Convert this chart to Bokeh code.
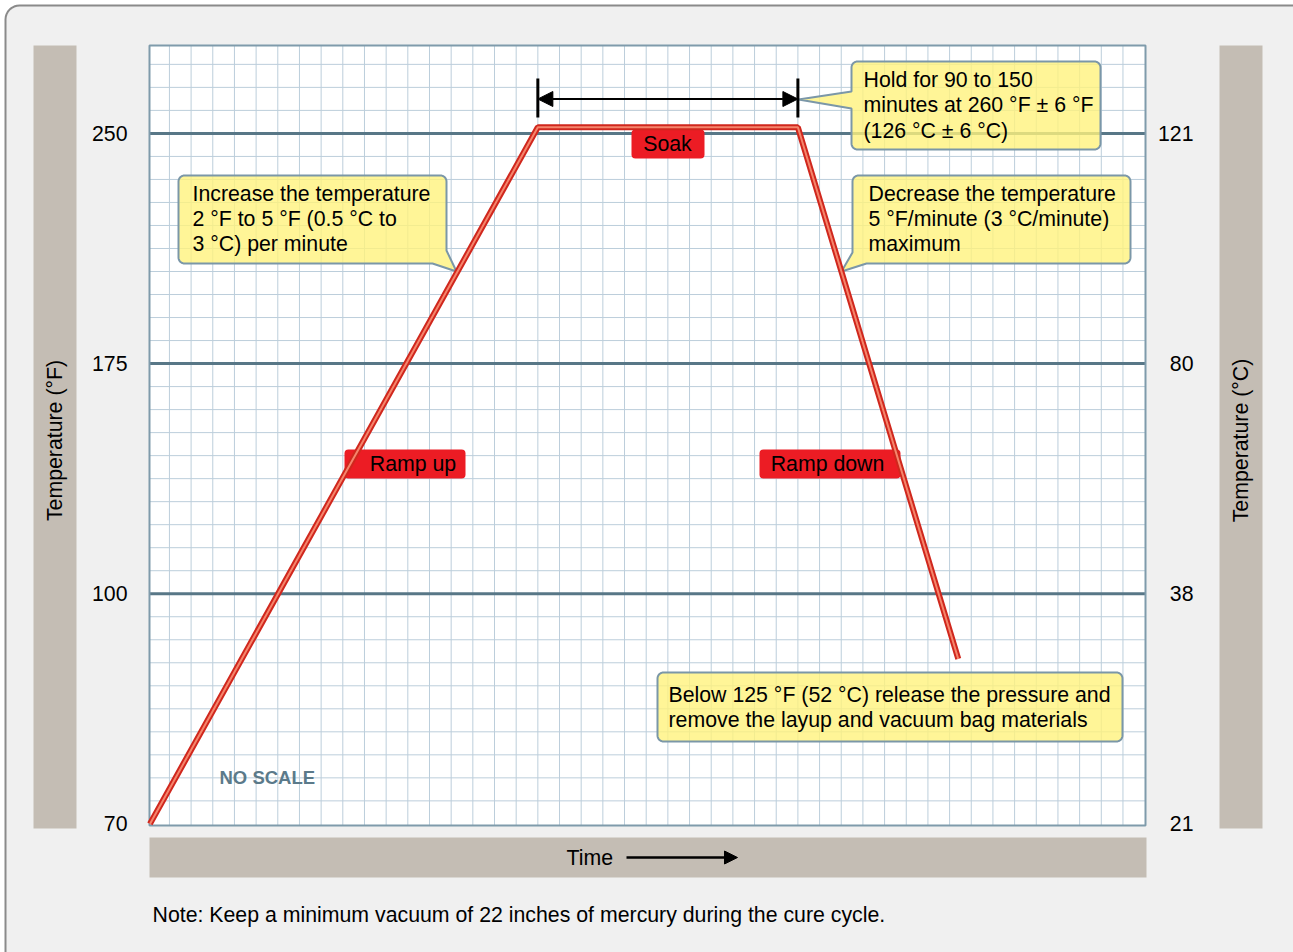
import numpy as np
from bokeh.plotting import figure
from bokeh.models import (Range1d, BoxAnnotation, Label, Arrow, NormalHead, ColumnDataSource)
from bokeh.embed import file_html
from bokeh.resources import INLINE

# ---------------- data ----------------
time_units = [0.1, 18.0, 30.0, 37.4]      # time, in grid cells (no scale)
temp_f = [70, 252, 252, 91.5]              # temperature (°F)
f_ticks = [70, 100, 175, 250]              # left tick labels (°F)
c_ticks = [21, 38, 80, 121]                # right tick labels (°C)
soak_start, soak_end = time_units[1], time_units[2]


def f_to_pos(v):
    # "NO SCALE": tick labels are equally spaced, piecewise-linear between them
    if v >= f_ticks[-1]:
        return len(f_ticks) - 1 + (v - f_ticks[-1]) / (f_ticks[-1] - f_ticks[-2])
    return float(np.interp(v, f_ticks, np.arange(len(f_ticks))))


# ---------------- layout (canvas pixels) ----------------
W, H = 1293, 952
L, R, T, B = 149, 1145, 45, 825          # plot area in pixels
XS, XE = 0.08, 46.04                      # data range shown inside the plot area
YS, YE = -0.007, 3.382
FONT = "Liberation Sans"
FS = "21.3px"


def xd(px):
    return XS + (px - L) * (XE - XS) / (R - L)


def yd(py):
    return YS + (B - py) * (YE - YS) / (B - T)


p = figure(width=W, height=H, x_range=Range1d(xd(0), xd(W)), y_range=Range1d(yd(H), yd(0)),
           x_axis_type=None, y_axis_type=None, toolbar_location=None,
           output_backend="svg", min_border=0)
p.background_fill_color = "white"
p.border_fill_color = "white"
p.outline_line_color = None
p.xgrid.visible = False
p.ygrid.visible = False


def rounded(x0, y0, x1, y1, r=6, repl=None, after=None):
    repl = repl or {}
    after = after or {}
    corners = {"TL": ((x0 + r, y0 + r), 180), "TR": ((x1 - r, y0 + r), 270),
               "BR": ((x1 - r, y1 - r), 0), "BL": ((x0 + r, y1 - r), 90)}
    pts = []
    for c in ["TL", "TR", "BR", "BL"]:
        if c in repl:
            pts += repl[c]
        else:
            (cx, cy), a0 = corners[c]
            for a in np.linspace(a0, a0 + 90, 9):
                pts.append((cx + r * np.cos(np.radians(a)), cy + r * np.sin(np.radians(a))))
        pts += after.get(c, [])
    return [xd(x) for x, _ in pts], [yd(y) for _, y in pts]


# outer rounded panel
ox, oy = rounded(5, 5, 1420, 1100, r=14)
p.patch(ox, oy, fill_color="#f0f0f0", line_color="#8a8a8a", line_width=2)

# grey label bands
p.quad(left=[xd(33), xd(1219), xd(149)], right=[xd(76), xd(1262), xd(1146)],
       top=[yd(45), yd(45), yd(837)], bottom=[yd(828), yd(828), yd(877)],
       fill_color="#c4bdb4", line_color=None)

# plot area + grid
p.quad(left=[XS], right=[XE], top=[YE], bottom=[YS], fill_color="white", line_color=None)
vx = np.arange(1, 46)
p.segment(x0=vx, y0=np.full(len(vx), YS), x1=vx, y1=np.full(len(vx), YE),
          line_color="#bccedb", line_width=1)
hy = np.array([i / 10 for i in range(1, 34) if i % 10])
p.segment(x0=np.full(len(hy), XS), y0=hy, x1=np.full(len(hy), XE), y1=hy,
          line_color="#bccedb", line_width=1)
my = np.arange(1, len(f_ticks))
p.segment(x0=np.full(len(my), XS), y0=my, x1=np.full(len(my), XE), y1=my,
          line_color="#587787", line_width=3)
p.quad(left=[XS], right=[XE], top=[YE], bottom=[YS], fill_color=None,
       line_color="#7f9bab", line_width=2)

# callouts
shapes = [
    rounded(178, 175, 446, 263, repl={"BR": [(446, 250), (456, 271), (432, 263)]}),
    rounded(852, 175, 1130, 263, repl={"BL": [(866, 263), (841, 271), (852, 252)]}),
    rounded(851, 61, 1100, 149, after={"BL": [(851, 108), (798, 99), (851, 91)]}),
    rounded(657, 672, 1122, 741),
]
p.patches([s[0] for s in shapes], [s[1] for s in shapes], fill_color="#fff27d", fill_alpha=0.8,
          line_color="#7b97a8", line_width=2)

# soak markers
p.segment(x0=[soak_start, soak_end], y0=[yd(78)] * 2, x1=[soak_start, soak_end], y1=[yd(117)] * 2,
          line_color="black", line_width=3)


def lab(x, y, text, align="left", **kw):
    d = dict(x=x, y=y, text=text, text_align=align, text_baseline="middle",
             text_font=FONT, text_font_size=FS, text_color="black")
    d.update(kw)
    p.add_layout(Label(**d))


p.add_layout(Arrow(x_start=soak_start, x_end=soak_end, y_start=yd(98.5), y_end=yd(98.5),
                   line_width=2, line_color="black",
                   start=NormalHead(size=15, fill_color="black", line_color="black"),
                   end=NormalHead(size=15, fill_color="black", line_color="black")))

# red labels
for (x0, x1, y0, y1, tx, t) in [(631, 704, 129, 158, 667, "Soak"),
                                (344, 465, 449, 478, 412.5, "Ramp up"),
                                (759, 900, 449, 478, 827, "Ramp down")]:
    p.add_layout(BoxAnnotation(left=xd(x0), right=xd(x1), top=yd(y0), bottom=yd(y1),
                               fill_color="#ec1c24", fill_alpha=1, line_color=None, border_radius=4))
    lab(xd(tx), yd((y0 + y1) / 2), t, "center")

# tick labels
for i, v in enumerate(f_ticks):
    lab(xd(127), i, str(v), "right")
for i, v in enumerate(c_ticks):
    lab(xd(1193), i, str(v), "right")

# axis titles, time, note
lab(xd(54.5), yd(440), "Temperature (°F)", "center", angle=np.pi / 2)
lab(xd(1240.5), yd(440), "Temperature (°C)", "center", angle=np.pi / 2)
lab(xd(566), yd(857), "Time")
p.add_layout(Arrow(x_start=xd(626), x_end=xd(737), y_start=yd(857), y_end=yd(857),
                   line_width=2.5, line_color="black",
                   end=NormalHead(size=13, fill_color="black", line_color="black")))
lab(xd(152), yd(914), "Note: Keep a minimum vacuum of 22 inches of mercury during the cure cycle.")
lab(xd(219), yd(777), "NO SCALE", text_font_style="bold", text_font_size="18.5px",
    text_color="#5b7a8a")

texts = [
    (192, [193, 218, 243.5], ["Increase the temperature", "2 °F to 5 °F (0.5 °C to", "3 °C) per minute"]),
    (868, [193, 218, 243.5], ["Decrease the temperature", "5 °F/minute (3 °C/minute)", "maximum"]),
    (863, [79, 104.5, 130], ["Hold for 90 to 150", "minutes at 260 °F ± 6 °F", "(126 °C ± 6 °C)"]),
    (668, [694, 719], ["Below 125 °F (52 °C) release the pressure and",
                       "remove the layup and vacuum bag materials"]),
]
for x, ys, lines in texts:
    for y, t in zip(ys, lines):
        lab(xd(x), yd(y), t)

# cure profile line
src = ColumnDataSource(dict(t=time_units, pos=[f_to_pos(v) for v in temp_f]))
p.line("t", "pos", source=src, line_color="#d0271d", line_width=6, level="overlay")
p.line("t", "pos", source=src, line_color="#f5856c", line_width=2, level="overlay")

open("out.html", "w").write(file_html(p, INLINE))
